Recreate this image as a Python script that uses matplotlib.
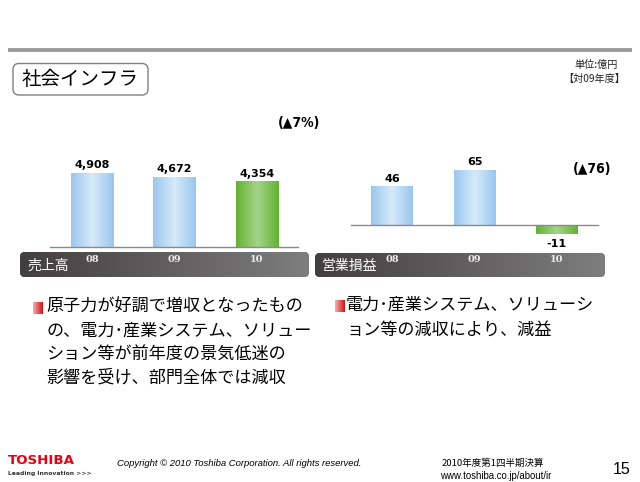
import numpy as np
import matplotlib
matplotlib.use("Agg")
import matplotlib.pyplot as plt
from matplotlib.patches import FancyBboxPatch, Rectangle

plt.rcParams['font.family'] = ['Noto Sans CJK JP', 'DejaVu Sans']

# ---- data ----
years = ["08", "09", "10"]
sales = [4908, 4672, 4354]
op_income = [46, 65, -11]
sales_labels = ["4,908", "4,672", "4,354"]
op_labels = ["46", "65", "-11"]
sales_change = "(▲7%)"
op_change = "(▲76)"
title = "社会インフラ"
unit_text = "単位:億円"
compare_text = "【対09年度】"
sales_name = "売上高"
op_name = "営業損益"
left_lines = ["原子力が好調で増収となったもの",
              "の、電力･産業システム、ソリュー",
              "ション等が前年度の景気低迷の",
              "影響を受け、部門全体では減収"]
right_lines = ["電力･産業システム、ソリューシ",
               "ョン等の減収により、減益"]

W, H = 640, 482
fig = plt.figure(figsize=(6.4, 4.82), dpi=100)
bg = fig.add_axes([0, 0, 1, 1])
bg.set_xlim(0, W)
bg.set_ylim(H, 0)
bg.axis('off')

# top rule
bg.plot([8, 632], [49.5, 49.5], color='#9a9a9a', lw=2.8, solid_capstyle='butt')

# title box
bg.add_patch(FancyBboxPatch((13, 63.5), 135, 31.5, boxstyle="round,pad=0,rounding_size=6",
                            fc='white', ec='#808080', lw=1.0))
bg.text(22, 79.5, title, fontsize=14, va='center', ha='left', color='black')

bg.text(618, 65, unit_text, fontsize=7.3, ha='right', va='center', color='#222')
bg.text(625, 79, compare_text, fontsize=7.3, ha='right', va='center', color='#222')

# bands
def band(x0, x1, y0, y1, label):
    p = FancyBboxPatch((x0, y0), x1 - x0, y1 - y0, boxstyle="round,pad=0,rounding_size=5",
                       fc='#5a5556', ec='none')
    bg.add_patch(p)
    grad = np.linspace(0, 1, 256).reshape(1, -1)
    cmap = matplotlib.colors.LinearSegmentedColormap.from_list('b', ['#433e3f', '#7e7e7e'])
    im = bg.imshow(grad, extent=[x0, x1, y1, y0], cmap=cmap, aspect='auto', zorder=2)
    im.set_clip_path(p)
    bg.text(x0 + 7, (y0 + y1) / 2 + 1, label, color='white', fontsize=10,
            va='center', ha='left', zorder=3)

band(20, 309, 252, 277, sales_name)
band(315, 605, 253, 277, op_name)
bg.set_xlim(0, W)
bg.set_ylim(H, 0)

def fig_rect(x0, y0, x1, y1):
    return [x0 / W, 1 - y1 / H, (x1 - x0) / W, (y1 - y0) / H]

blue_cmap = matplotlib.colors.LinearSegmentedColormap.from_list(
    'bl', ['#9ac6ee', '#d6eaf9', '#9ac6ee'])
green_cmap = matplotlib.colors.LinearSegmentedColormap.from_list(
    'gr', ['#62b232', '#a6d488', '#62b232'])

def draw_bars(ax, vals, labels, pad, npad):
    x = np.arange(len(vals))
    bars = ax.bar(x, vals, width=0.51, color='#b8d9f4', edgecolor='none', zorder=2)
    grad = np.linspace(0, 1, 256).reshape(1, -1)
    for i, b in enumerate(bars):
        cm = green_cmap if i == len(vals) - 1 else blue_cmap
        bx, by = b.get_x(), b.get_y()
        bw, bh = b.get_width(), b.get_height()
        im = ax.imshow(grad, extent=[bx, bx + bw, by, by + bh], cmap=cm,
                       aspect='auto', zorder=3)
        im.set_clip_path(b)
    for xi, v, lab in zip(x, vals, labels):
        if v >= 0:
            ax.text(xi, v + pad, lab, ha='center', va='bottom', fontsize=8,
                    fontweight='bold', family='DejaVu Sans', zorder=4)
        else:
            ax.text(xi, v - npad, lab, ha='center', va='top', fontsize=8,
                    fontweight='bold', family='DejaVu Sans', zorder=4)
    ax.axhline(0, color='#8a8a8a', lw=1.0, zorder=4, clip_on=False)
    for s in ax.spines.values():
        s.set_visible(False)
    ax.set_xticks([])
    ax.set_yticks([])
    ax.patch.set_alpha(0)
    return x

# left chart: baseline y=247, x 50..298
axL = fig.add_axes(fig_rect(50, 140, 298, 247))
draw_bars(axL, sales, sales_labels, 180, 180)
axL.set_xlim(-0.51, 2.5)
axL.set_ylim(0, 7100)

# right chart: baseline y=225, x 351..598
axR = fig.add_axes(fig_rect(351, 140, 598, 245))
draw_bars(axR, op_income, op_labels, 3, 5)
axR.set_xlim(-0.5, 2.5)
axR.set_ylim(-23.6, 100.5)

# year labels on bands (positioned via the chart x scales)
for ax, ybase in ((axL, 260), (axR, 259)):
    for xi, yr in zip(range(len(years)), years):
        disp = ax.transData.transform((xi, 0))
        px = disp[0] / fig.dpi * 100
        bg.text(px, ybase, yr, color='#f0f0f0', fontsize=7, fontweight='bold',
                family='DejaVu Serif', ha='center', va='center', zorder=5)

bg.text(299, 123, sales_change, fontsize=10, fontweight='bold', ha='center', va='center',
        family='DejaVu Sans', fontstretch='condensed')
bg.text(592, 169, op_change, fontsize=10, fontweight='bold', ha='center', va='center',
        family='DejaVu Sans', fontstretch='condensed')

# bullets
def bullet(x, y):
    sq = Rectangle((x, y - 6), 10, 12, fc='#e02020', ec='none')
    bg.add_patch(sq)
    g = np.linspace(0, 1, 64).reshape(1, -1)
    cm = matplotlib.colors.LinearSegmentedColormap.from_list('r', ['#f4b0b0', '#d81010'])
    im = bg.imshow(g, extent=[x, x + 10, y + 6, y - 6], cmap=cm, aspect='auto', zorder=3)
    im.set_clip_path(sq)

step = 23.5
bullet(33, 308)
for i, line in enumerate(left_lines):
    bg.text(46, 307 + i * step, line, fontsize=12.3, va='center', ha='left')
bullet(335, 306)
for i, line in enumerate(right_lines):
    bg.text(346, 305 + i * 25, line, fontsize=12.3, va='center', ha='left')
bg.set_xlim(0, W)
bg.set_ylim(H, 0)

# footer
bg.text(8, 460, "TOSHIBA", color='#e60012', fontsize=9.6, fontweight='bold',
        family='DejaVu Sans', ha='left', va='center')
bg.text(8, 473, "Leading Innovation >>>", color='#333333', fontsize=4.4,
        fontweight='bold', family='DejaVu Sans', ha='left', va='center')
bg.text(117, 463, "Copyright © 2010 Toshiba Corporation. All rights reserved.",
        fontsize=6.8, style='italic', family='Liberation Sans', ha='left', va='center')
bg.text(442, 463, "2010年度第1四半期決算", fontsize=6.8, style='italic',
        ha='left', va='center')
bg.text(440, 476, "www.toshiba.co.jp/about/ir", fontsize=6.9,
        family='Liberation Sans', ha='left', va='center')
bg.text(630, 469, "15", fontsize=11.5, family='Liberation Sans', ha='right', va='center')

fig.savefig("out.png", dpi=100)
